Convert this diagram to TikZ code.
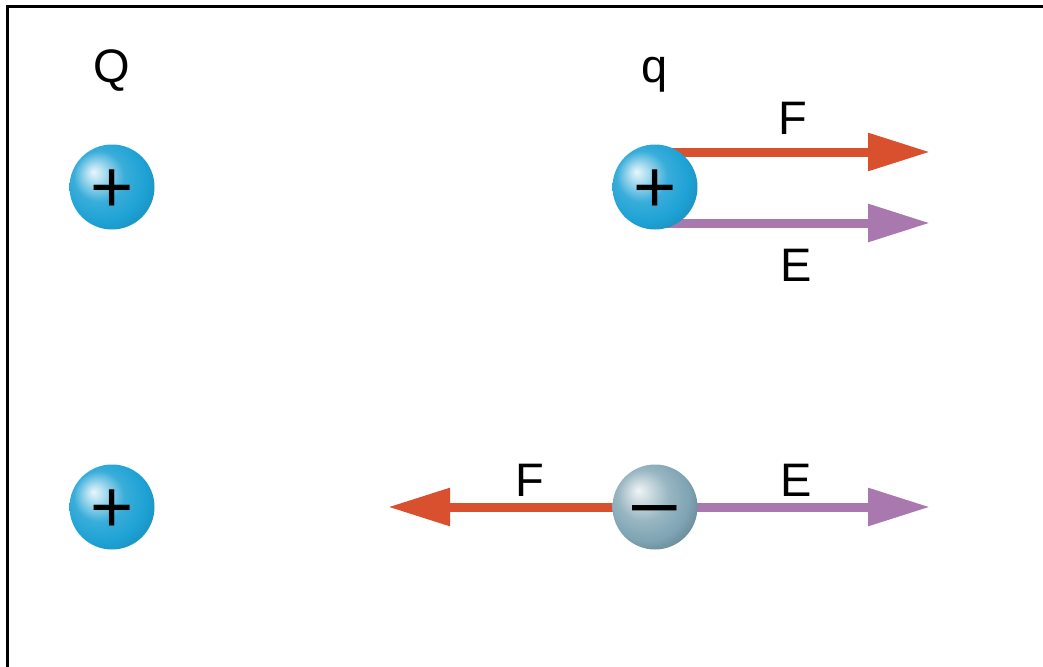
\documentclass[tikz,border=0pt]{standalone}
\usepackage{fontspec}
\setmainfont{Liberation Sans}
\usetikzlibrary{arrows.meta}
\pgfdeclarelayer{background}
\pgfsetlayers{background,main}
\definecolor{fred}{HTML}{D9502F}
\definecolor{epurp}{HTML}{A878AE}
\definecolor{sphblue}{HTML}{1EA2D5}
\definecolor{sphgray}{HTML}{7FA4B3}
\pgfdeclareradialshading{bluesphere}{\pgfpoint{-11bp}{9bp}}{color(0bp)=(white!90!sphblue); color(5bp)=(white!65!sphblue); color(15bp)=(sphblue!88!white); color(25bp)=(sphblue); color(38bp)=(sphblue!80!black); color(50bp)=(sphblue!80!black)}
\pgfdeclareradialshading{graysphere}{\pgfpoint{-10bp}{10bp}}{color(0bp)=(white!88!sphgray); color(5bp)=(white!65!sphgray); color(15bp)=(sphgray!80!white); color(25bp)=(sphgray); color(38bp)=(sphgray!68!black); color(50bp)=(sphgray!68!black)}
\begin{document}
\begin{tikzpicture}[x=1pt,y=-1pt,
  lbl/.style={font=\fontsize{47}{56}\selectfont, inner sep=0pt, anchor=base},
  sphere/.style={circle, minimum size=85pt, inner sep=0pt, text height=0pt, text depth=0pt},
  possphere/.style={sphere, shading=bluesphere, font=\fontsize{74}{74}\selectfont},
  negsphere/.style={sphere, shading=graysphere, font=\fontsize{80}{80}\selectfont},
  farrow/.style={draw=fred, line width=9pt, -{Triangle[length=62pt,width=36pt]}},
  earrow/.style={draw=epurp, line width=9pt, -{Triangle[length=62pt,width=36pt]}}]
\useasboundingbox (0,0) rectangle (1043,666);
\draw[line width=3.2pt] (7.5,668) -- (7.5,6.5) -- (1045,6.5);
% spheres
\node[possphere] (Q) at (112,187) {\raisebox{-0.351em}{+}};
\node[possphere] (q) at (655,187) {\raisebox{-0.351em}{+}};
\node[possphere] (Q2) at (112,507) {\raisebox{-0.351em}{+}};
\node[negsphere] (n) at (655,507) {\raisebox{-0.27em}{\char"2013}};
% labels
\node[lbl] (Qlab) at (112,83) {Q};
\node[lbl] (qlab) at (655,83) {q};
\node[lbl] (Ftl) at (793,135) {F};
\node[lbl] (Etl) at (796,281) {E};
\node[lbl] (Fbl) at (530,496) {F};
\node[lbl] (Ebl) at (796,496) {E};
% arrow ends
\coordinate (Ft) at (930,152);
\coordinate (Et) at (930,223);
\coordinate (Fb) at (388,507);
\coordinate (Eb) at (930,507);
\begin{pgfonlayer}{background}
\draw[farrow] (q.center |- Ft) -- (Ft);
\draw[earrow] (q.center |- Et) -- (Et);
\draw[farrow] (n.center) -- (Fb);
\draw[earrow] (n.center) -- (Eb);
\end{pgfonlayer}
\end{tikzpicture}
\end{document}
